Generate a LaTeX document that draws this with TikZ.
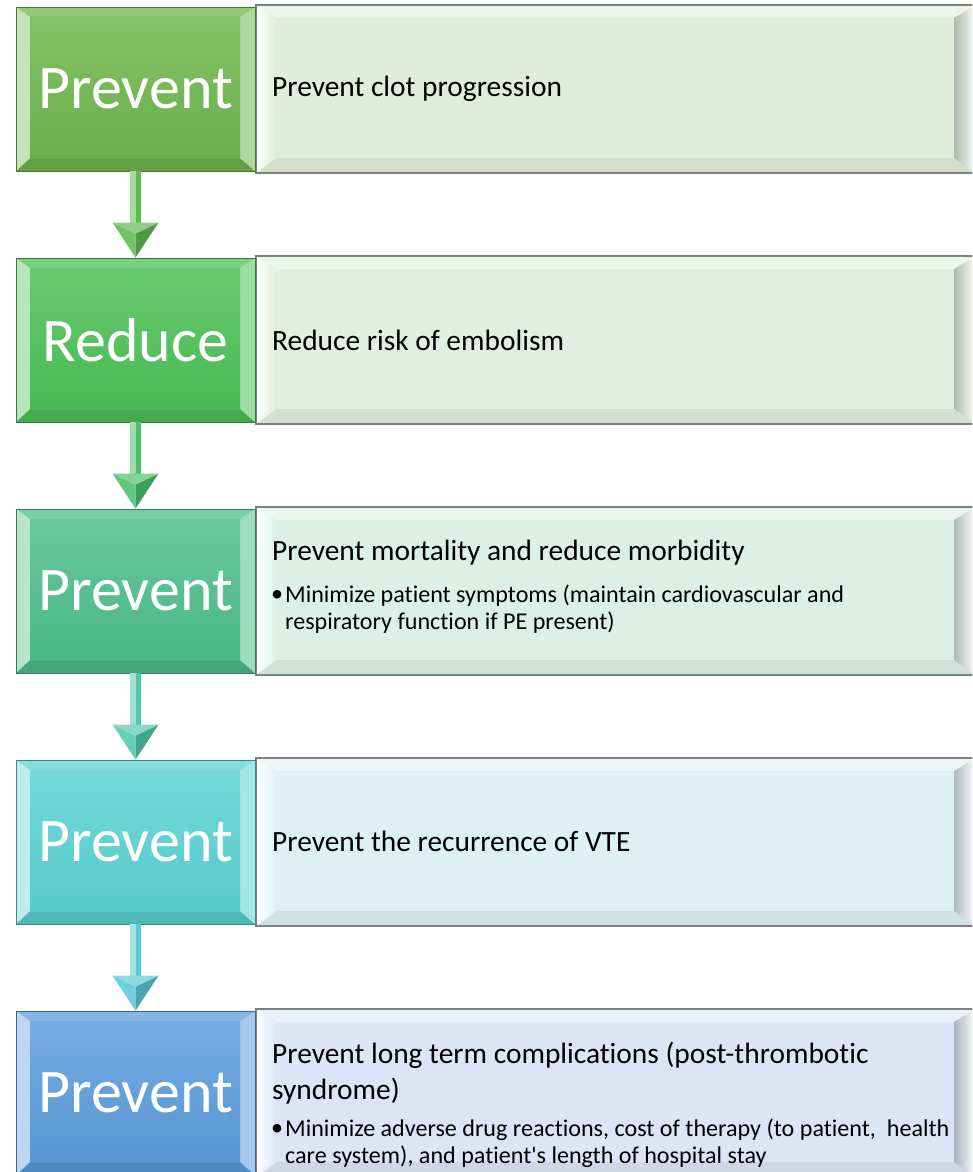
\documentclass[tikz,border=0pt]{standalone}
\usepackage{fontspec}
\setmainfont{Carlito}[Ligatures=NoCommon]
\usetikzlibrary{calc}

% stage colours (left blocks) and pale panel colours (right blocks)
\definecolor{gA}{RGB}{110,182,78}
\definecolor{gB}{RGB}{76,192,86}
\definecolor{gC}{RGB}{78,190,138}
\definecolor{gD}{RGB}{90,210,210}
\definecolor{gE}{RGB}{92,156,220}
\definecolor{pA}{RGB}{226,236,218}
\definecolor{pB}{RGB}{224,239,223}
\definecolor{pC}{RGB}{221,240,232}
\definecolor{pD}{RGB}{221,241,241}
\definecolor{pE}{RGB}{220,229,246}
\definecolor{rim}{RGB}{125,128,125}

\tikzset{
  stage/.style={draw=#1!65!black, line width=0.8pt, fill=#1,
    minimum width=239pt, minimum height=164pt, inner sep=0pt,
    text=white, font=\fontsize{62}{62}\selectfont,
    path picture={
      \coordinate (a) at (path picture bounding box.north west);
      \coordinate (b) at (path picture bounding box.north east);
      \coordinate (c) at (path picture bounding box.south east);
      \coordinate (d) at (path picture bounding box.south west);
      \coordinate (a1) at ($(a)+(14pt,-10pt)$);
      \coordinate (b1) at ($(b)+(-15pt,-10pt)$);
      \coordinate (c1) at ($(c)+(-15pt,13pt)$);
      \coordinate (d1) at ($(d)+(14pt,13pt)$);
      \fill[#1!75!white] (a) -- (b) -- (b1) -- (a1) -- cycle;
      \fill[#1!88!black] (d) -- (c) -- (c1) -- (d1) -- cycle;
      \fill[#1!40!white] (a) -- (a1) -- (d1) -- (d) -- cycle;
      \fill[#1!55!white] (b) -- (b1) -- (c1) -- (c) -- cycle;
      \shade[top color=#1!85!white, bottom color=#1!96!black] (a1) rectangle (c1);
    }},
  panel/.style={draw=rim, line width=1.2pt, fill=#1,
    minimum width=720pt, minimum height=168pt, inner sep=0pt,
    path picture={
      \coordinate (a) at (path picture bounding box.north west);
      \coordinate (b) at (path picture bounding box.north east);
      \coordinate (c) at (path picture bounding box.south east);
      \coordinate (d) at (path picture bounding box.south west);
      \coordinate (a1) at ($(a)+(20pt,-13pt)$);
      \coordinate (b1) at ($(b)+(-22pt,-13pt)$);
      \coordinate (c1) at ($(c)+(-22pt,15pt)$);
      \coordinate (d1) at ($(d)+(20pt,15pt)$);
      \fill[#1!60!white] (a) -- (b) -- (b1) -- (a1) -- cycle;
      \fill[#1!94!black] (d) -- (c) -- (c1) -- (d1) -- cycle;
      \shade[left color=white, right color=#1] (a) -- (a1) -- (d1) -- (d) -- cycle;
      \shade[left color=#1!78!black, right color=white] (b) -- (b1) -- (c1) -- (c) -- cycle;
    }},
  heading/.style={anchor=west, inner sep=0pt, align=left,
    font=\fontsize{29.4}{36}\selectfont},
  bullettext/.style={anchor=west, inner sep=0pt, align=left,
    font=\fontsize{24.1}{27}\selectfont},
}

% block arrow from one stage down to the next
\newcommand\stagearrow[3]{%
  \fill[#3!55!white] ($(#1.south)+(-5.5pt,0)$) rectangle ($(#2.north)+(0,34pt)$);
  \fill[#3] (#1.south) rectangle ($(#2.north)+(5.5pt,34pt)$);
  \fill[#3!88!white] ($(#2.north)+(-23pt,35pt)$) -- ($(#2.north)+(0,24pt)$) -- (#2.north) -- cycle;
  \fill[#3!82!black] ($(#2.north)+(23pt,35pt)$) -- ($(#2.north)+(0,24pt)$) -- (#2.north) -- cycle;
  \fill[#3!70!white] ($(#2.north)+(-23pt,35pt)$) -- ($(#2.north)+(23pt,35pt)$) -- ($(#2.north)+(0,24pt)$) -- cycle;
}

\begin{document}
\begin{tikzpicture}[x=1pt, y=-1pt]
  \useasboundingbox (0,0) rectangle (972,1172);
  \clip (0,0) rectangle (972,1172);

  % detail panels
  \node[panel=pA] (R1) at (616,89)   {};
  \node[panel=pB] (R2) at (616,340)  {};
  \node[panel=pC] (R3) at (616,591)  {};
  \node[panel=pD] (R4) at (616,842)  {};
  \node[panel=pE] (R5) at (616,1093) {};

  % stage blocks
  \node[stage=gA] (L1) at (135.5,89)   {Prevent};
  \node[stage=gB] (L2) at (135.5,340)  {Reduce};
  \node[stage=gC] (L3) at (135.5,591)  {Prevent};
  \node[stage=gD] (L4) at (135.5,842)  {Prevent};
  \node[stage=gE] (L5) at (135.5,1093) {Prevent};

  % arrows between stages
  \stagearrow{L1}{L2}{gA!55!gB}
  \stagearrow{L2}{L3}{gB!55!gC}
  \stagearrow{L3}{L4}{gC!55!gD}
  \stagearrow{L4}{L5}{gD!85!gE}

  % panel texts
  \node[heading] (t1) at (272,89)  {Prevent clot progression};
  \node[heading] (t2) at (272,340) {Reduce risk of embolism};
  \node[heading] (t3) at (272,553) {Prevent mortality and reduce morbidity};
  \node[bullettext] (b3d) at (271,596) {•};
  \node[bullettext] (b3) at (285,609.5)
    {Minimize patient symptoms (maintain cardiovascular and\\respiratory function if PE present)};
  \node[heading] (t4) at (272,841) {Prevent the recurrence of VTE};
  \node[heading] (t5) at (272,1073.5)
    {Prevent long term complications (post-thrombotic\\syndrome)};
  \node[bullettext] (b5d) at (271,1130) {•};
  \node[bullettext] (b5) at (285,1143.5)
    {Minimize adverse drug reactions, cost of therapy (to patient,\ \ health\\care system), and patient\textquotesingle s length of hospital stay};
\end{tikzpicture}
\end{document}
